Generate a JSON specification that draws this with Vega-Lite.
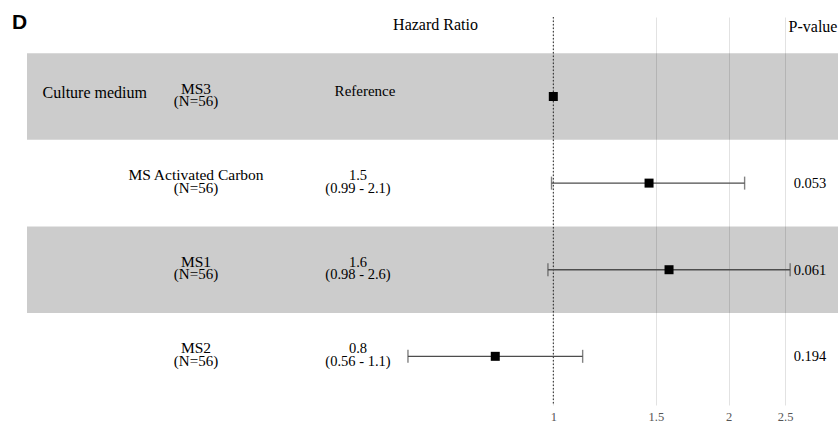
{
  "$schema": "https://vega.github.io/schema/vega-lite/v6.json",
  "width": 811,
  "height": 388,
  "autosize": {"type": "none"},
  "padding": {"left": 27, "top": 17, "right": 0, "bottom": 19},
  "background": "white",
  "config": {"view": {"stroke": null}},
  "datasets": {
    "rows": [
      {"row": 1, "variable": "Culture medium", "level": "MS3", "n": "(N=56)", "hr": 1, "lo": null, "hi": null, "est": null, "ci": null, "ref": "Reference", "p": null},
      {"row": 2, "variable": null, "level": "MS Activated Carbon", "n": "(N=56)", "hr": 1.46, "lo": 0.993, "hi": 2.13, "est": "1.5", "ci": "(0.99 - 2.1)", "ref": null, "p": "0.053"},
      {"row": 3, "variable": null, "level": "MS1", "n": "(N=56)", "hr": 1.58, "lo": 0.979, "hi": 2.55, "est": "1.6", "ci": "(0.98 - 2.6)", "ref": null, "p": "0.061"},
      {"row": 4, "variable": null, "level": "MS2", "n": "(N=56)", "hr": 0.795, "lo": 0.563, "hi": 1.123, "est": "0.8", "ci": "(0.56 - 1.1)", "ref": null, "p": "0.194"}
    ]
  },
  "data": {"name": "rows"},
  "layer": [
    {
      "transform": [{"filter": "datum.row % 2 == 1"}],
      "mark": {"type": "rule", "color": "black", "opacity": 0.2, "strokeWidth": 86.6, "strokeCap": "butt"},
      "encoding": {
        "x": {"datum": 0.1249, "type": "quantitative", "title": null,
              "scale": {"type": "log", "domain": [0.1249, 3.081], "nice": false, "zero": false},
              "axis": {"values": [1, 1.5, 2, 2.5], "format": "~g", "title": null, "grid": true, "gridColor": "#E2E2E2", "gridWidth": 1, "ticks": false, "domain": false, "labelFont": "Liberation Serif", "labelFontSize": 12.5, "labelColor": "#555555", "labelPadding": 5}},
        "x2": {"datum": 3.081},
        "y": {"field": "row", "type": "quantitative",
              "scale": {"domain": [0.082, 4.562], "reverse": true, "nice": false, "zero": false},
              "axis": null}
      }
    },
    {
      "data": {"values": [{}]},
      "mark": {"type": "rule", "color": "#222222", "strokeWidth": 1, "strokeDash": [1.5, 2]},
      "encoding": {"x": {"datum": 1, "type": "quantitative", "title": null}}
    },
    {
      "transform": [{"filter": "isValid(datum.lo)"}],
      "mark": {"type": "rule", "color": "#4d4d4d", "strokeWidth": 1.4},
      "encoding": {
        "x": {"field": "lo", "type": "quantitative", "title": null},
        "x2": {"field": "hi"},
        "y": {"field": "row", "type": "quantitative", "axis": null}
      }
    },
    {
      "transform": [{"filter": "isValid(datum.lo)"}],
      "mark": {"type": "tick", "orient": "vertical", "color": "#4d4d4d", "size": 13, "thickness": 1.4},
      "encoding": {
        "x": {"field": "lo", "type": "quantitative", "title": null},
        "y": {"field": "row", "type": "quantitative", "axis": null}
      }
    },
    {
      "transform": [{"filter": "isValid(datum.hi)"}],
      "mark": {"type": "tick", "orient": "vertical", "color": "#4d4d4d", "size": 13, "thickness": 1.4},
      "encoding": {
        "x": {"field": "hi", "type": "quantitative", "title": null},
        "y": {"field": "row", "type": "quantitative", "axis": null}
      }
    },
    {
      "mark": {"type": "point", "shape": "square", "filled": true, "size": 81, "color": "black", "opacity": 1},
      "encoding": {
        "x": {"field": "hr", "type": "quantitative", "title": null},
        "y": {"field": "row", "type": "quantitative", "axis": null}
      }
    },
    {
      "transform": [{"filter": "isValid(datum.variable)"}],
      "mark": {"type": "text", "font": "Liberation Serif", "fontSize": 16, "align": "left", "baseline": "alphabetic", "dy": 1.5, "color": "black"},
      "encoding": {
        "x": {"datum": 0.1328, "type": "quantitative", "title": null},
        "y": {"field": "row", "type": "quantitative", "axis": null},
        "text": {"field": "variable"}
      }
    },
    {
      "mark": {"type": "text", "font": "Liberation Serif", "fontSize": 15.5, "align": "center", "baseline": "alphabetic", "dy": -3, "color": "black"},
      "encoding": {
        "x": {"datum": 0.2436, "type": "quantitative", "title": null},
        "y": {"field": "row", "type": "quantitative", "axis": null},
        "text": {"field": "level"}
      }
    },
    {
      "mark": {"type": "text", "font": "Liberation Serif", "fontSize": 15, "align": "center", "baseline": "alphabetic", "dy": 9.5, "color": "black"},
      "encoding": {
        "x": {"datum": 0.2436, "type": "quantitative", "title": null},
        "y": {"field": "row", "type": "quantitative", "axis": null},
        "text": {"field": "n"}
      }
    },
    {
      "transform": [{"filter": "isValid(datum.est)"}],
      "mark": {"type": "text", "font": "Liberation Serif", "fontSize": 14.5, "align": "center", "baseline": "alphabetic", "dy": -3, "color": "black"},
      "encoding": {
        "x": {"datum": 0.4621, "type": "quantitative", "title": null},
        "y": {"field": "row", "type": "quantitative", "axis": null},
        "text": {"field": "est"}
      }
    },
    {
      "transform": [{"filter": "isValid(datum.ci)"}],
      "mark": {"type": "text", "font": "Liberation Serif", "fontSize": 14.5, "align": "center", "baseline": "alphabetic", "dy": 9.5, "color": "black"},
      "encoding": {
        "x": {"datum": 0.4621, "type": "quantitative", "title": null},
        "y": {"field": "row", "type": "quantitative", "axis": null},
        "text": {"field": "ci"}
      }
    },
    {
      "transform": [{"filter": "isValid(datum.ref)"}],
      "mark": {"type": "text", "font": "Liberation Serif", "fontSize": 15, "align": "center", "baseline": "alphabetic", "dy": -0.5, "color": "black"},
      "encoding": {
        "x": {"datum": 0.4751, "type": "quantitative", "title": null},
        "y": {"field": "row", "type": "quantitative", "axis": null},
        "text": {"field": "ref"}
      }
    },
    {
      "transform": [{"filter": "isValid(datum.p)"}],
      "mark": {"type": "text", "font": "Liberation Serif", "fontSize": 14.5, "align": "center", "baseline": "alphabetic", "dy": 5, "color": "black"},
      "encoding": {
        "x": {"datum": 2.758, "type": "quantitative", "title": null},
        "y": {"field": "row", "type": "quantitative", "axis": null},
        "text": {"field": "p"}
      }
    },
    {
      "data": {"values": [{"t": "Hazard Ratio"}]},
      "mark": {"type": "text", "font": "Liberation Serif", "fontSize": 16, "align": "center", "baseline": "alphabetic", "color": "black"},
      "encoding": {
        "x": {"datum": 0.6278, "type": "quantitative", "title": null},
        "y": {"datum": 0.232, "type": "quantitative", "axis": null},
        "text": {"field": "t"}
      }
    },
    {
      "data": {"values": [{"t": "P-value"}]},
      "mark": {"type": "text", "font": "Liberation Serif", "fontSize": 16, "align": "center", "baseline": "alphabetic", "color": "black"},
      "encoding": {
        "x": {"datum": 2.791, "type": "quantitative", "title": null},
        "y": {"datum": 0.2553, "type": "quantitative", "axis": null},
        "text": {"field": "t"}
      }
    },
    {
      "data": {"values": [{"t": "D"}]},
      "mark": {"type": "text", "font": "Liberation Sans", "fontWeight": "bold", "fontSize": 21, "align": "left", "baseline": "alphabetic", "color": "black"},
      "encoding": {
        "x": {"datum": 0.1177, "type": "quantitative", "title": null},
        "y": {"datum": 0.2206, "type": "quantitative", "axis": null},
        "text": {"field": "t"}
      }
    }
  ]
}
